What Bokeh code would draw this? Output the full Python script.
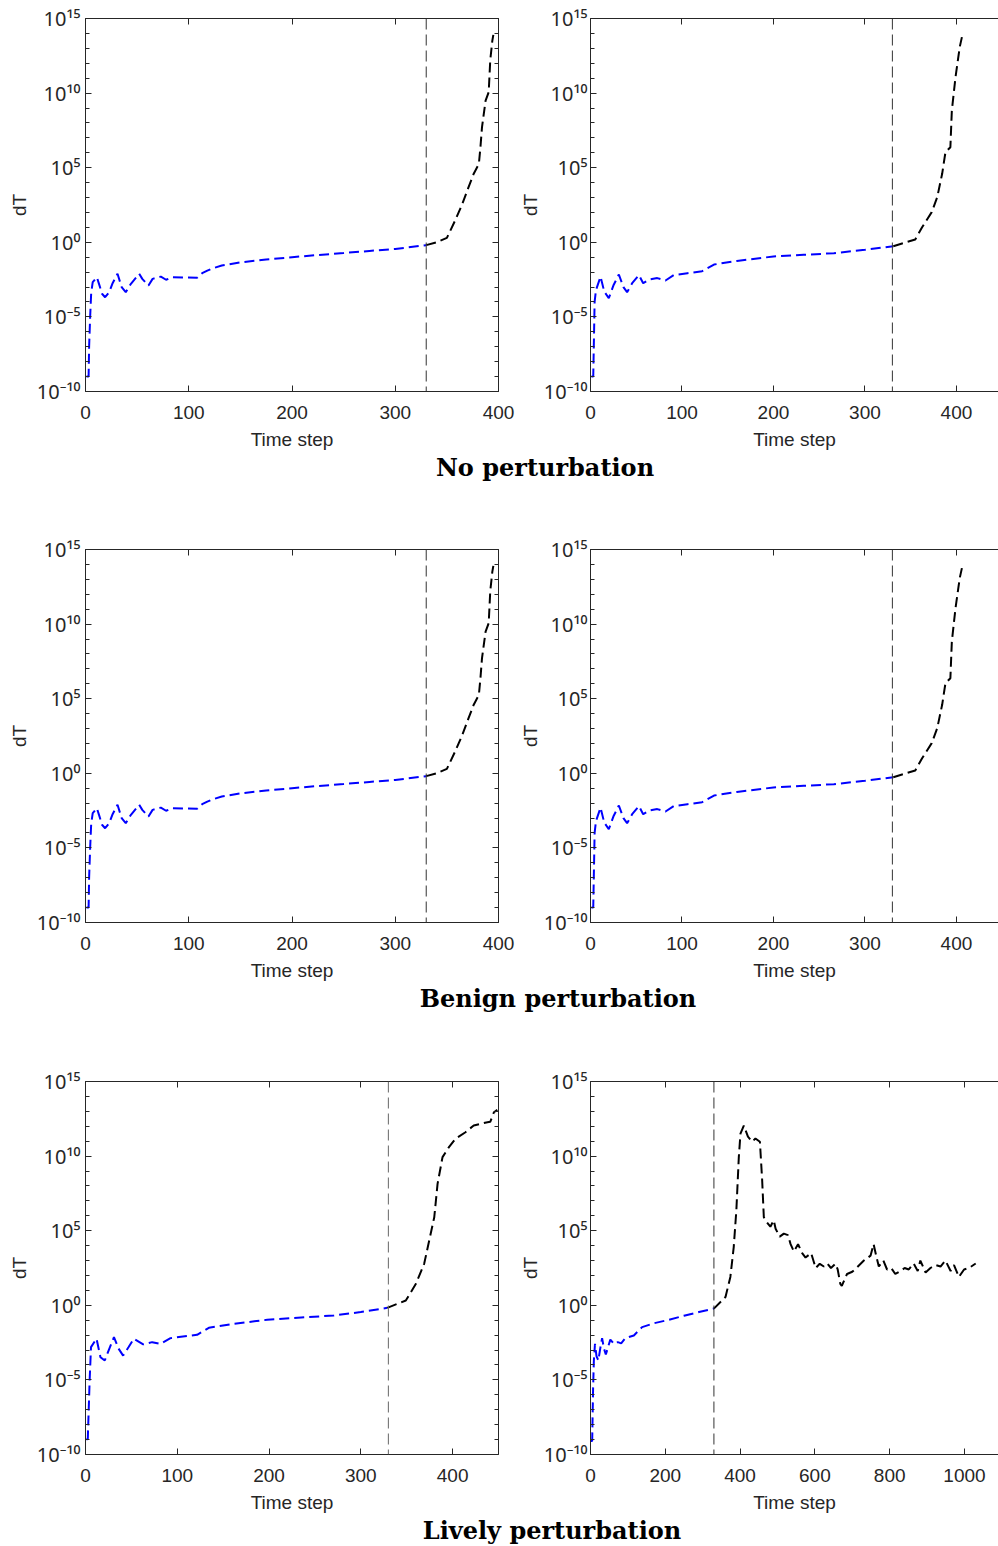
from bokeh.plotting import figure
from bokeh.models import FixedTicker, LinearAxis, LogAxis, Span, Div, Range1d, CustomJSTickFormatter
from bokeh.layouts import column, row
from bokeh.embed import file_html
from bokeh.resources import INLINE

# ---------------- data (time step, log10 dT) ----------------
switch_step = 330

# No perturbation, left panel
nop_L_t_blue = [1, 3, 3.5, 4.5, 5.5, 7, 11, 13, 16, 19, 23, 26, 31, 35, 39, 44, 52, 55, 61, 65, 73, 78, 84, 95, 108, 113, 118, 123, 132, 150, 175, 200, 225, 250, 275, 300, 315, 330]
nop_L_l_blue = [-9.0, -9.0, -7.0, -5.0, -3.4, -2.67, -2.34, -2.77, -3.45, -3.68, -3.34, -2.78, -2.11, -3.0, -3.34, -2.78, -2.11, -2.45, -2.9, -2.45, -2.3, -2.51, -2.34, -2.36, -2.38, -2.07, -1.9, -1.75, -1.56, -1.35, -1.15, -1.0, -0.85, -0.72, -0.58, -0.45, -0.32, -0.19]
nop_L_t_black = [330, 340, 350, 358, 365, 371, 376, 381, 382.5, 384, 387.5, 390.5, 392, 394, 395]
nop_L_l_black = [-0.19, 0.0, 0.3, 1.46, 2.58, 3.7, 4.6, 5.26, 6.37, 7.7, 9.5, 10.06, 12.2, 13.5, 13.9]

# No perturbation, right panel
nop_R_t_blue = [1, 3, 3.6, 4.5, 6, 11, 15, 20, 25, 31, 36, 40, 46, 53, 57.6, 64, 73, 82, 91, 106, 122, 135, 160, 200, 233, 266, 300, 331]
nop_R_l_blue = [-9.0, -9.0, -7.0, -4.0, -3.2, -2.3, -3.3, -3.75, -2.9, -2.16, -3.0, -3.34, -2.7, -2.2, -2.74, -2.5, -2.4, -2.56, -2.2, -2.07, -1.94, -1.49, -1.25, -0.95, -0.84, -0.73, -0.5, -0.26]
nop_R_t_black = [331, 345, 355, 362.5, 373, 379, 384.4, 388, 393.4, 395, 399, 403.6, 406]
nop_R_l_black = [-0.26, 0.0, 0.19, 1.01, 2.02, 3.02, 4.59, 6.04, 6.37, 8.83, 11.07, 13.08, 13.75]

# Benign perturbation (visually identical to the unperturbed runs)
ben_L_t_blue = list(nop_L_t_blue)
ben_L_l_blue = list(nop_L_l_blue)
ben_L_t_black = list(nop_L_t_black)
ben_L_l_black = list(nop_L_l_black)
ben_R_t_blue = list(nop_R_t_blue)
ben_R_l_blue = list(nop_R_l_blue)
ben_R_t_black = list(nop_R_t_black)
ben_R_l_black = list(nop_R_l_black)

# Lively perturbation, left panel
liv_L_t_blue = [1, 2.5, 3.5, 4.5, 6, 12, 16.3, 21, 26, 31, 36, 41, 47, 52.7, 62.9, 72.7, 81.7, 92.6, 121.6, 134.4, 160, 198, 235, 270.6, 300, 328.8]
liv_L_l_blue = [-9.0, -8.95, -7.0, -5.04, -2.8, -2.24, -3.48, -3.7, -2.9, -2.14, -2.9, -3.37, -2.8, -2.24, -2.62, -2.47, -2.58, -2.2, -1.98, -1.51, -1.25, -0.97, -0.82, -0.68, -0.45, -0.17]
liv_L_t_black = [328.8, 349, 360, 369, 374.5, 380, 383.6, 389, 396, 403, 414, 423, 438, 441, 445, 448.7]
liv_L_l_black = [-0.17, 0.32, 1.44, 2.78, 4.34, 5.9, 8.14, 9.93, 10.6, 11.16, 11.6, 12.05, 12.27, 12.3, 12.94, 13.1]

# Lively perturbation, right panel
liv_R_t_blue = [1, 4.5, 7, 9, 12, 16, 21, 26, 31, 36, 41, 47, 53, 63, 73, 82, 93, 116, 138, 170, 205, 250, 290, 330]
liv_R_l_blue = [-9.1, -9.1, -5.5, -3.7, -2.58, -3.4, -3.7, -2.9, -2.2, -2.9, -3.3, -2.8, -2.3, -2.6, -2.47, -2.55, -2.2, -2.02, -1.46, -1.2, -1.0, -0.7, -0.45, -0.22]
liv_R_t_black = [330, 361, 374, 383, 390, 396.6, 401, 410, 421, 432, 441, 453, 459, 463.5, 470.6, 481, 490, 495, 506, 517, 528, 535, 544, 555, 566, 575, 590, 602, 613, 624, 633, 643, 655, 661, 668, 672, 686, 700, 713, 731, 749, 757, 765, 771, 783, 793, 804, 815, 829, 840, 851, 864, 875, 882, 896, 909, 923, 936, 949, 963, 972, 985, 999, 1012, 1030]
liv_R_l_black = [-0.22, 0.56, 1.9, 3.9, 6.36, 9.93, 11.5, 12.05, 11.3, 10.96, 11.18, 10.96, 8.4, 5.9, 5.6, 5.27, 5.7, 5.13, 4.6, 4.8, 4.7, 4.1, 3.6, 4.1, 3.5, 3.2, 3.5, 2.5, 2.78, 2.6, 2.8, 2.5, 2.78, 2.4, 1.44, 1.3, 2.1, 2.25, 2.55, 3.0, 3.33, 4.1, 3.2, 2.6, 3.0, 2.4, 2.5, 2.1, 2.3, 2.5, 2.4, 2.8, 2.3, 3.0, 2.2, 2.5, 2.7, 2.6, 3.0, 2.3, 2.7, 1.9, 2.4, 2.5, 2.8]

x_ticks_400 = [0, 100, 200, 300, 400]
x_ticks_1000 = [0, 200, 400, 600, 800, 1000]
y_major_ticks = [1e-10, 1e-5, 1.0, 1e5, 1e10, 1e15]
y_tick_labels = ["10\u207b\u00b9\u2070", "10\u207b\u2075", "10\u2070", "10\u2075", "10\u00b9\u2070", "10\u00b9\u2075"]
y_minor_exp = list(range(-10, 16))
row_titles = ["No perturbation", "Benign perturbation", "Lively perturbation"]

# ---------------- styling ----------------
AX = "#262626"
SANS = "Liberation Sans"
SUPFONT = "'Noto Sans', 'DejaVu Sans'"


def hide_labels(ax):
    ax.major_label_text_font_size = "1px"
    ax.major_label_text_color = None
    ax.major_label_standoff = 0
    ax.axis_label = None


def y_formatter():
    return CustomJSTickFormatter(args=dict(yvals=y_major_ticks, ylabs=y_tick_labels), code="""
        let best = 0, bd = Infinity;
        for (let i = 0; i < yvals.length; i++) {
            const d = Math.abs(Math.log10(yvals[i]) - Math.log10(tick));
            if (d < bd) { bd = d; best = i; }
        }
        return ylabs[best];
    """)


def panel(tb, lb, tk, lk, xmax, xticks, is_left, vcolor="#333333"):
    width = 515 if is_left else 483
    ml = 85 if is_left else 75
    mr = 17 if is_left else 0
    p = figure(width=width, height=456, x_range=Range1d(0, xmax), y_range=Range1d(1e-10, 1e15),
               y_axis_type="log", output_backend="svg", toolbar_location=None,
               min_border_left=ml, min_border_right=mr, min_border_top=18, min_border_bottom=65)
    p.outline_line_color = None
    p.xgrid.visible = False
    p.ygrid.visible = False

    xa = p.xaxis[0]
    xa.ticker = FixedTicker(ticks=xticks)
    xa.axis_label = "Time step"
    xa.axis_label_text_font = SANS
    xa.axis_label_text_font_size = "19px"
    xa.axis_label_text_font_style = "normal"
    xa.axis_label_text_color = AX
    xa.axis_label_standoff = 7
    xa.major_label_text_font = SANS
    xa.major_label_text_font_size = "19px"
    xa.major_label_text_color = AX
    xa.major_label_standoff = 14
    xa.major_tick_in = 6
    xa.major_tick_out = 0
    xa.minor_tick_in = 0
    xa.minor_tick_out = 0
    xa.axis_line_color = AX
    xa.major_tick_line_color = AX

    ya = p.yaxis[0]
    ya.ticker = FixedTicker(ticks=y_major_ticks, minor_ticks=[10.0 ** k for k in y_minor_exp])
    ya.formatter = y_formatter()
    ya.major_label_text_font = SUPFONT
    ya.major_label_text_font_size = "20px"
    ya.major_label_text_color = AX
    ya.major_label_standoff = 5 if is_left else 3
    ya.axis_label = "dT"
    ya.axis_label_text_font = SANS
    ya.axis_label_text_font_size = "19px"
    ya.axis_label_text_font_style = "normal"
    ya.axis_label_text_color = AX
    ya.axis_label_standoff = 4 if is_left else 0
    ya.major_tick_in = 6
    ya.major_tick_out = 0
    ya.minor_tick_in = 4
    ya.minor_tick_out = 0
    ya.axis_line_color = AX
    ya.major_tick_line_color = AX
    ya.minor_tick_line_color = AX

    top = LinearAxis(ticker=FixedTicker(ticks=xticks), major_tick_in=6, major_tick_out=0,
                     minor_tick_in=0, minor_tick_out=0, axis_line_color=AX, major_tick_line_color=AX)
    hide_labels(top)
    p.add_layout(top, "above")
    if is_left:
        right = LogAxis(ticker=FixedTicker(ticks=y_major_ticks,
                                           minor_ticks=[10.0 ** k for k in y_minor_exp]),
                        major_tick_in=6, major_tick_out=0, minor_tick_in=4, minor_tick_out=0,
                        axis_line_color=AX, major_tick_line_color=AX, minor_tick_line_color=AX)
        hide_labels(right)
        p.add_layout(right, "right")

    p.add_layout(Span(location=switch_step, dimension="height", line_color=vcolor,
                      line_width=1, line_dash="11 5"))
    p.line(tb, [10.0 ** v for v in lb], line_color="#0000ff", line_width=2, line_dash="10 5")
    p.line(tk, [10.0 ** v for v in lk], line_color="#000000", line_width=2, line_dash="10 5")
    return p


def title_div(text, center_x, height):
    pad = int(round(2 * center_x - 998))
    html = ('<div style="width:998px;box-sizing:border-box;padding-left:%dpx;text-align:center;'
            'font-family:\'DejaVu Serif\';font-weight:bold;font-size:24px;line-height:24px;'
            'color:#000;white-space:nowrap;">%s</div>' % (pad, text))
    return Div(text=html, width=998, height=height, margin=0)


r1 = row(panel(nop_L_t_blue, nop_L_l_blue, nop_L_t_black, nop_L_l_black, 400, x_ticks_400, True),
         panel(nop_R_t_blue, nop_R_l_blue, nop_R_t_black, nop_R_l_black, 446, x_ticks_400, False))
r2 = row(panel(ben_L_t_blue, ben_L_l_blue, ben_L_t_black, ben_L_l_black, 400, x_ticks_400, True),
         panel(ben_R_t_blue, ben_R_l_blue, ben_R_t_black, ben_R_l_black, 446, x_ticks_400, False))
r3 = row(panel(liv_L_t_blue, liv_L_l_blue, liv_L_t_black, liv_L_l_black, 450, x_ticks_400, True, "#666666"),
         panel(liv_R_t_blue, liv_R_l_blue, liv_R_t_black, liv_R_l_black, 1091, x_ticks_1000, False))

layout = column(r1, title_div(row_titles[0], 545, 75),
                r2, title_div(row_titles[1], 558, 76),
                r3, title_div(row_titles[2], 552, 27))

open("out.html", "w").write(file_html(layout, INLINE))
